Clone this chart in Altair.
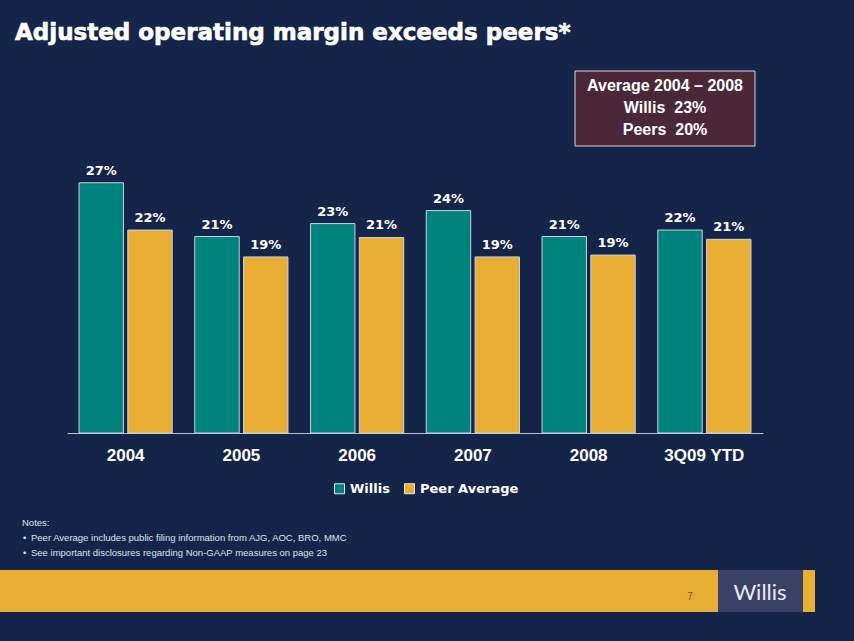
import altair as alt
import pandas as pd

# ---------------- data ----------------
years = ["2004", "2005", "2006", "2007", "2008", "3Q09 YTD"]
series = ["Willis", "Peer Average"]
willis = [27.0, 21.2, 22.6, 24.0, 21.2, 21.9]
peer = [21.9, 19.0, 21.1, 19.0, 19.2, 20.9]

title_text = "Adjusted operating margin exceeds peers*"
box_lines = ["Average 2004 \u2013 2008", "Willis\u00a0 23%", "Peers\u00a0 20%"]
notes_head = "Notes:"
notes_lines = [
    "Peer Average includes public filing information from AJG, AOC, BRO, MMC",
    "See important disclosures regarding Non-GAAP measures on page 23",
]
page_no = "7"
logo_text = "Willis"

# ---------------- styling ----------------
BG = "#15254a"
TEAL = "#00827d"
GOLD = "#e8ad33"
BOX = "#4a2838"
LOGOBOX = "#3a4166"

rows = []
for i, y in enumerate(years):
    rows.append({"year": y, "series": series[0], "v": willis[i]})
    rows.append({"year": y, "series": series[1], "v": peer[i]})
df = pd.DataFrame(rows)

L, T = 67, 155  # plot origin in page coordinates
W, H = 696, 278

x_enc = alt.X(
    "year:N",
    sort=years,
    scale=alt.Scale(paddingInner=0.195, paddingOuter=0.104),
    axis=alt.Axis(
        title=None,
        labelAngle=0,
        ticks=False,
        domainColor="#b8c0cc",
        domainWidth=1,
        labelColor="white",
        labelFont="Liberation Sans",
        labelFontWeight="bold",
        labelFontSize=17,
        labelPadding=14,
        grid=False,
    ),
)
xo_enc = alt.XOffset("series:N", sort=series, scale=alt.Scale(paddingInner=0.09))
y_enc = alt.Y("v:Q", scale=alt.Scale(domain=[0, 30]), axis=None)

bars = alt.Chart(df).mark_bar(stroke="#c8d4e0", strokeWidth=1).encode(
    x=x_enc,
    xOffset=xo_enc,
    y=y_enc,
    color=alt.Color(
        "series:N",
        sort=series,
        scale=alt.Scale(domain=series, range=[TEAL, GOLD]),
        legend=alt.Legend(
            title=None,
            orient="none",
            legendX=266,
            legendY=327,
            direction="horizontal",
            symbolType="square",
            symbolSize=100,
            symbolStrokeColor="#dfe6ee",
            symbolStrokeWidth=1,
            labelColor="white",
            labelFont="DejaVu Sans",
            labelFontWeight="bold",
            labelFontSize=13,
            columnPadding=12,
            labelOffset=4,
        ),
    ),
)

labels = (
    alt.Chart(df)
    .transform_calculate(lab='format(datum.v, ".0f") + "%"')
    .mark_text(dy=-12, font="DejaVu Sans", fontWeight="bold", fontSize=13, color="white")
    .encode(x=x_enc, xOffset=xo_enc, y=y_enc, text="lab:N")
)


def txt(s, px, py, **kw):
    return alt.Chart(pd.DataFrame({"t": [s]})).mark_text(**kw).encode(
        text="t:N", x=alt.value(px - L), y=alt.value(py - T)
    )


def rect(x1, x2, y1, y2, **kw):
    return alt.Chart(pd.DataFrame({"t": [0]})).mark_rect(**kw).encode(
        x=alt.value(x1 - L), x2=alt.value(x2 - L), y=alt.value(y1 - T), y2=alt.value(y2 - T)
    )


title = txt(title_text, 15, 40, align="left", baseline="alphabetic", font="DejaVu Sans",
            fontWeight="bold", fontSize=23, color="white", stroke="white", strokeWidth=0.7)

box = rect(575, 755, 71, 146, fill=BOX, stroke="#d0d4dc", strokeWidth=1)
box_txt = [
    txt(s, 665, yy, align="center", baseline="middle", font="Liberation Sans",
        fontWeight="bold", fontSize=16, color="white")
    for s, yy in zip(box_lines, [86, 108, 130])
]

notes = [txt(notes_head, 22, 523, align="left", baseline="middle", font="Liberation Sans",
             fontSize=9.5, color="#dde3ec")]
for s, yy in zip(notes_lines, [538, 553]):
    notes.append(txt("\u2022", 23, yy, align="left", baseline="middle", font="Liberation Sans",
                     fontSize=9.5, color="#dde3ec"))
    notes.append(txt(s, 31, yy, align="left", baseline="middle", font="Liberation Sans",
                     fontSize=9.5, color="#dde3ec"))

footer = [
    rect(0, 718, 570, 612, fill=GOLD),
    rect(718, 803, 570, 612, fill=LOGOBOX),
    rect(803, 815, 570, 612, fill=GOLD),
    txt(page_no, 690, 597, align="center", baseline="middle", font="Liberation Sans",
        fontSize=10, color="#6b5a3a"),
    txt(logo_text, 760, 593, align="center", baseline="middle", font="Lato",
        fontSize=22, color="#e8ecf2"),
]

chart = (
    alt.layer(bars, labels, title, box, *box_txt, *notes, *footer)
    .properties(
        width=W,
        height=H,
        padding={"left": L, "top": T, "right": 854 - L - W, "bottom": 641 - T - H},
        autosize=alt.AutoSizeParams(type="none"),
        background=BG,
    )
    .configure_view(stroke=None)
)

chart.save("out.html", embed_options={"renderer": "svg", "actions": False})
